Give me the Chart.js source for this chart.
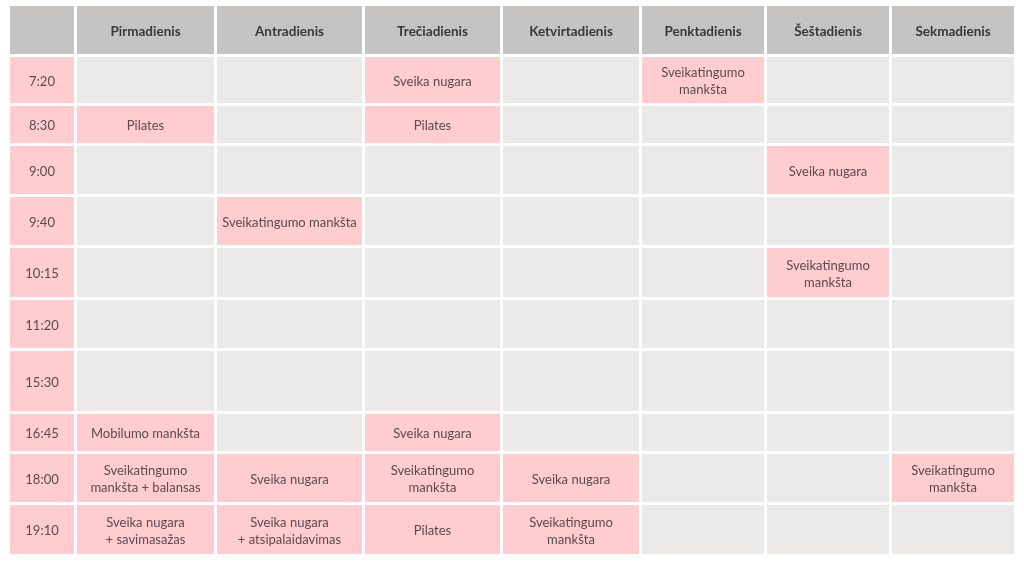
<!DOCTYPE html>
<html>
<head>
<meta charset="utf-8">
<script src="https://cdn.jsdelivr.net/npm/chart.js@4.4.1/dist/chart.umd.min.js"></script>
<style>
html,body{margin:0;padding:0;background:#ffffff;}
#wrap{width:1024px;height:576px;}
</style>
</head>
<body>
<div id="wrap"><canvas id="c" width="1024" height="576"></canvas></div>
<script>
// ---- data ----
const days = ['Pirmadienis','Antradienis','Trečiadienis','Ketvirtadienis','Penktadienis','Šeštadienis','Sekmadienis'];
const times = ['7:20','8:30','9:00','9:40','10:15','11:20','15:30','16:45','18:00','19:10'];
const pirmadienis = ['', 'Pilates', '', '', '', '', '', 'Mobilumo mankšta', 'Sveikatingumo\nmankšta + balansas', 'Sveika nugara\n+ savimasažas'];
const antradienis = ['', '', '', 'Sveikatingumo mankšta', '', '', '', '', 'Sveika nugara', 'Sveika nugara\n+ atsipalaidavimas'];
const treciadienis = ['Sveika nugara', 'Pilates', '', '', '', '', '', 'Sveika nugara', 'Sveikatingumo\nmankšta', 'Pilates'];
const ketvirtadienis = ['', '', '', '', '', '', '', '', 'Sveika nugara', 'Sveikatingumo\nmankšta'];
const penktadienis = ['Sveikatingumo\nmankšta', '', '', '', '', '', '', '', '', ''];
const sestadienis = ['', '', 'Sveika nugara', '', 'Sveikatingumo\nmankšta', '', '', '', '', ''];
const sekmadienis = ['', '', '', '', '', '', '', '', 'Sveikatingumo\nmankšta', ''];
const sessions = [pirmadienis, antradienis, treciadienis, ketvirtadienis, penktadienis, sestadienis, sekmadienis];

// ---- layout (sizes in scale units) ----
const colWidths = [64,137,145,135,136,122,122,122];
const rowHeights = [48,46,37,48,48,49,48,60,37,48,49];
const gap = 3;
const colStart = []; let acc = 0;
colWidths.forEach(w => { colStart.push(acc); acc += w + gap; });
const totalW = acc - gap;
const rowStart = []; acc = 0;
rowHeights.forEach(h => { rowStart.push(acc); acc += h + gap; });
const totalH = acc - gap;

const COLORS = { header:'#c5c4c2', empty:'#ebeae9', pink:'#ffcdd0', text:'#5c4a4d', headText:'#383838' };
const FONT = 'Lato';

// one point per cell (center), cell content kept alongside
const cells = [];
for (let r = 0; r <= times.length; r++) {
  for (let c = 0; c <= days.length; c++) {
    let text = '', kind = 'empty';
    if (r === 0) { kind = 'header'; text = c === 0 ? '' : days[c-1]; }
    else if (c === 0) { kind = 'time'; text = times[r-1]; }
    else { text = sessions[c-1][r-1]; kind = text ? 'session' : 'empty'; }
    cells.push({ x: colStart[c] + colWidths[c]/2, y: rowStart[r] + rowHeights[r]/2, c, r, text, kind });
  }
}

const tablePlugin = {
  id: 'tableCells',
  afterDatasetsDraw(chart) {
    const ctx = chart.ctx, xs = chart.scales.x, ys = chart.scales.y;
    ctx.save();
    cells.forEach(cell => {
      const x0 = xs.getPixelForValue(colStart[cell.c]);
      const x1 = xs.getPixelForValue(colStart[cell.c] + colWidths[cell.c]);
      const y0 = ys.getPixelForValue(rowStart[cell.r]);
      const y1 = ys.getPixelForValue(rowStart[cell.r] + rowHeights[cell.r]);
      let fill = COLORS.empty;
      if (cell.kind === 'header') fill = COLORS.header;
      else if (cell.kind === 'time' || cell.kind === 'session') fill = COLORS.pink;
      ctx.fillStyle = fill;
      ctx.fillRect(x0, y0, x1 - x0, y1 - y0);
      if (cell.text) {
        const cx = xs.getPixelForValue(cell.x), cy = ys.getPixelForValue(cell.y) + 1.5;
        ctx.textAlign = 'center';
        ctx.textBaseline = 'middle';
        if (cell.kind === 'header') {
          ctx.font = 'bold 13.5px ' + FONT;
          ctx.fillStyle = COLORS.headText;
        } else {
          ctx.font = '13px ' + FONT;
          ctx.fillStyle = COLORS.text;
        }
        const lines = cell.text.split('\n');
        const lh = 17;
        lines.forEach((ln, i) => {
          ctx.fillText(ln, cx, cy + (i - (lines.length - 1)/2) * lh);
        });
      }
    });
    ctx.restore();
  }
};

new Chart(document.getElementById('c'), {
  type: 'scatter',
  data: { datasets: [{ data: cells.map(c => ({x: c.x, y: c.y})), pointRadius: 0, pointHoverRadius: 0 }] },
  options: {
    responsive: false,
    animation: false,
    layout: { padding: { left: 10, right: 10, top: 6, bottom: 22 } },
    plugins: { legend: { display: false }, tooltip: { enabled: false } },
    scales: {
      x: { type: 'linear', min: 0, max: totalW, display: false },
      y: { type: 'linear', min: 0, max: totalH, reverse: true, display: false }
    }
  },
  plugins: [tablePlugin]
});
</script>
</body>
</html>
